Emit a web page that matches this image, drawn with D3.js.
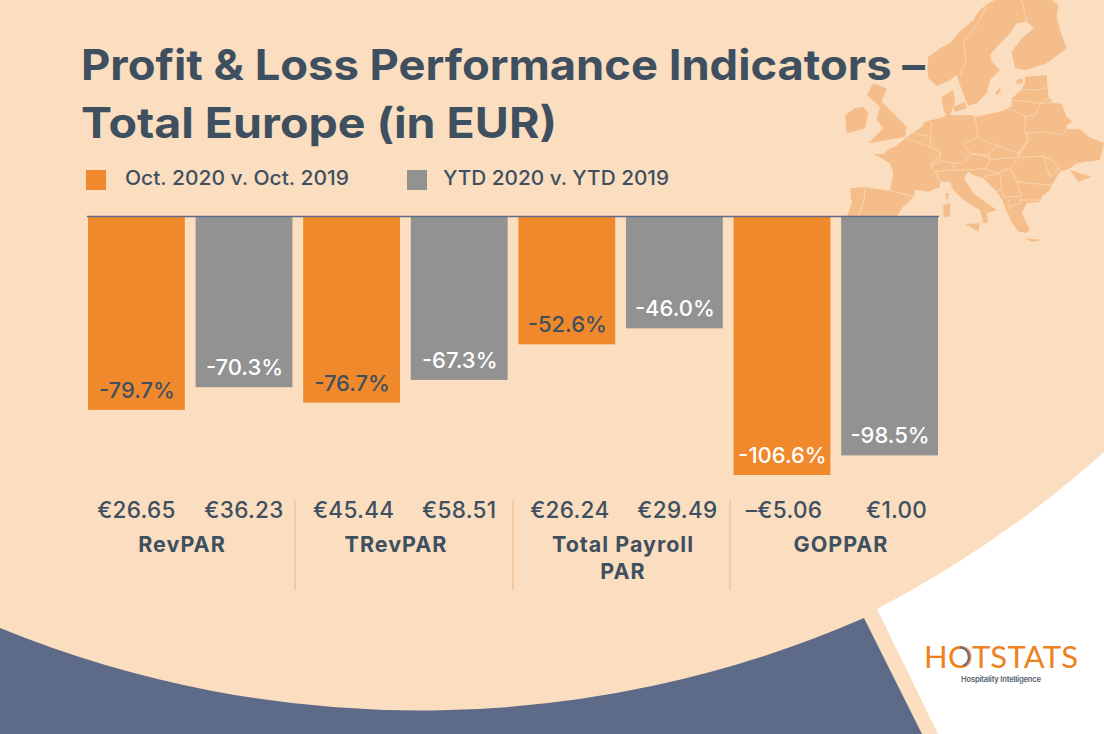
<!DOCTYPE html>
<html><head><meta charset="utf-8">
<style>html,body{margin:0;padding:0;background:#fff}svg{display:block}text{font-family:Inter,"Open Sans",sans-serif}</style>
<script src="https://cdn.jsdelivr.net/npm/d3@7"></script></head>
<body><div id="c"></div>
<script>
const categories=["RevPAR","TRevPAR","Total Payroll PAR","GOPPAR"];
const seriesNames=["Oct. 2020 v. Oct. 2019","YTD 2020 v. YTD 2019"];
const octChange=[-79.7,-76.7,-52.6,-106.6];
const ytdChange=[-70.3,-67.3,-46.0,-98.5];
const octEuro=["€26.65","€45.44","€26.24","–€5.06"];
const ytdEuro=["€36.23","€58.51","€29.49","€1.00"];

const W=1104,H=734,INK="#3e5060",ORANGE="#f0882c",GRAY="#929292",PEACH="#fbddc0",LAND="#f5bd8a",NAVY="#5d6a88";
const svg=d3.select("#c").append("svg").attr("width",W).attr("height",H);
svg.append("rect").attr("width",W).attr("height",H).attr("fill",PEACH);
svg.append("path").attr("fill",NAVY).attr("d","M0,628 A1111,1111 0 0 0 864,618 L922,734 L0,734 Z");
svg.append("path").attr("fill","#fff").attr("d","M877,609 Q1000,545 1104,452 L1104,734 L938,734 Z");

// Europe backdrop: decorative outline traced in 3x crop units
const land=[
[[465,0],[440,12],[415,35],[400,60],[385,72],[355,100],[335,125],[300,145],[265,170],[262,200],[265,235],[290,258],[330,240],[350,225],[365,270],[385,318],[410,310],[440,280],[450,240],[480,210],[455,185],[450,165],[480,130],[510,100],[530,70],[560,65],[582,85],[545,115],[515,155],[525,205],[560,210],[620,190],[680,145],[660,90],[650,50],[655,15],[635,0]],
[[100,462],[130,462],[150,445],[165,440],[200,412],[240,385],[255,365],[285,358],[310,350],[320,345],[310,330],[305,290],[340,270],[345,305],[330,345],[395,345],[405,350],[460,340],[490,332],[500,325],[515,320],[515,295],[545,268],[555,250],[555,230],[620,225],[625,290],[640,308],[665,312],[680,350],[698,365],[680,375],[680,388],[720,388],[745,410],[792,430],[780,480],[710,490],[690,505],[660,515],[635,555],[630,570],[605,590],[600,605],[560,610],[545,640],[570,690],[560,698],[535,695],[515,665],[500,635],[487,600],[470,575],[430,535],[400,525],[385,515],[372,535],[400,580],[470,630],[440,640],[445,665],[430,670],[420,630],[370,600],[340,570],[330,545],[300,545],[300,560],[265,575],[225,570],[222,590],[185,625],[170,650],[20,650],[35,610],[30,565],[75,562],[150,572],[160,520],[150,490]],
[[340,320],[375,305],[380,325],[345,335]],
[[100,250],[140,265],[125,305],[160,340],[200,380],[195,410],[140,420],[85,430],[130,385],[110,360],[120,320],[80,285]],
[[15,345],[45,325],[70,320],[85,340],[75,385],[20,400]],
[[690,510],[720,520],[755,530],[715,545]],
[[375,672],[420,670],[415,695]],
[[310,615],[330,610],[330,650],[310,650]],
[[315,580],[328,580],[322,605]],
[[555,715],[610,720],[575,725]],
[[465,280],[480,262],[482,275],[470,285]],
[[530,240],[548,235],[548,250],[530,252]]
];
const borders=[
[[440,12],[430,40],[400,90],[370,125],[378,185],[360,225]],
[[545,0],[560,65]],
[[75,562],[72,600],[55,650]],
[[275,365],[270,440],[303,458],[298,482],[345,490],[370,490],[392,462],[370,430],[415,410],[405,350]],
[[415,410],[440,425],[470,435],[495,445],[535,460],[565,420],[555,395],[555,350],[520,330],[495,325]],
[[200,412],[240,430],[270,440]],[[225,400],[275,410]],
[[303,458],[272,495],[285,515],[300,545]],[[150,572],[225,590]],
[[272,495],[300,485]],[[345,490],[335,510],[285,515]],[[335,510],[385,510]],
[[392,462],[440,470],[450,480],[435,505],[385,510]],
[[395,460],[445,465],[470,437]],[[445,465],[450,480],[490,475],[530,472],[540,455]],
[[435,505],[470,520],[510,505],[535,475]],[[535,472],[610,468],[650,490],[660,515]],
[[510,505],[530,545],[570,550],[635,555]],[[610,468],[630,530],[655,505]],
[[430,530],[480,520],[485,570],[470,575]],[[470,520],[480,520]],
[[530,545],[545,590],[530,590],[490,590],[485,570]],[[540,600],[600,600]],
[[505,595],[510,630]],[[510,620],[540,610],[545,595]],
[[555,400],[610,395],[665,405],[680,388]],[[555,350],[585,345],[600,310],[640,308]],
[[515,300],[570,305],[600,310],[625,295]],[[545,268],[590,270],[620,262]],
[[565,420],[535,472]]
];
const mx=d3.scaleLinear().domain([0,3]).range([840,841]),my=d3.scaleLinear().domain([0,3]).range([0,1]);
const ln=d3.line().x(d=>mx(d[0])).y(d=>my(d[1]));
const map=svg.append("g");
map.selectAll("path.l").data(land).join("path").attr("class","l").attr("d",d=>ln(d)+"Z").attr("fill",LAND).attr("stroke","none");
map.selectAll("path.b").data(borders).join("path").attr("class","b").attr("d",ln)
  .attr("fill","none").attr("stroke","#fad9b8").attr("stroke-width",.8);

// title
const title=svg.append("g").attr("fill",INK).attr("font-size",42).attr("font-weight",700);
title.append("text").attr("x",81).attr("y",80).attr("textLength",844).attr("lengthAdjust","spacingAndGlyphs").text("Profit & Loss Performance Indicators –");
title.append("text").attr("x",81).attr("y",138).attr("textLength",476).attr("lengthAdjust","spacingAndGlyphs").text("Total Europe (in EUR)");

// legend
const legX=[86,407],legT=[125,443],legW=[224,226];
seriesNames.forEach((s,i)=>{
  svg.append("rect").attr("x",legX[i]).attr("y",170).attr("width",20).attr("height",20).attr("fill",i?GRAY:ORANGE);
  svg.append("text").attr("x",legT[i]).attr("y",185).attr("font-size",20).attr("font-weight",500).attr("fill",INK)
    .attr("textLength",legW[i]).attr("lengthAdjust","spacingAndGlyphs").text(s);
});

// chart
const rows=categories.flatMap((c,i)=>[
  {c,s:0,v:octChange[i],e:octEuro[i]},
  {c,s:1,v:ytdChange[i],e:ytdEuro[i]}]);
const x=d3.scaleBand().domain(d3.range(rows.length)).range([88,938]).paddingInner(.1);
const y=d3.scaleLinear().domain([0,-106.6]).range([217,475]);
svg.selectAll("rect.bar").data(rows).join("rect").attr("class","bar")
  .attr("x",(d,i)=>x(i)).attr("width",x.bandwidth())
  .attr("y",y(0)).attr("height",d=>y(d.v)-y(0)).attr("fill",d=>d.s?GRAY:ORANGE);
svg.append("line").attr("x1",87).attr("x2",939).attr("y1",216.5).attr("y2",216.5).attr("stroke",NAVY).attr("stroke-width",1.5);
svg.selectAll("text.pct").data(rows).join("text").attr("class","pct")
  .attr("x",(d,i)=>x(i)+x.bandwidth()/2+.5).attr("y",d=>y(d.v)-12)
  .attr("text-anchor","middle").attr("font-size",22).attr("font-weight",500)
  .attr("fill",d=>(d.s||d.v<-100)?"#fff":INK).text(d=>d.v.toFixed(1)+"%");
const euroNudge=[0,0,2,0,3,3,2,7];
svg.selectAll("text.eur").data(rows).join("text").attr("class","eur")
  .attr("x",(d,i)=>x(i)+x.bandwidth()/2+euroNudge[i]).attr("y",518)
  .attr("text-anchor","middle").attr("font-size",22.5).attr("font-weight",500).attr("letter-spacing",.3)
  .attr("fill",INK).text(d=>d.e);

// category labels
const catX=[182,396,623,841];
const wrapped=categories.map(c=>c==="Total Payroll PAR"?["Total Payroll","PAR"]:[c]);
wrapped.forEach((lines,i)=>lines.forEach((t,j)=>{
  svg.append("text").attr("x",catX[i]).attr("y",552+j*27).attr("text-anchor","middle")
    .attr("font-size",21.5).attr("font-weight",700).attr("letter-spacing",1).attr("fill",INK).text(t);
}));
[295,513,730].forEach(v=>svg.append("line").attr("x1",v).attr("x2",v).attr("y1",500).attr("y2",590).attr("stroke",LAND).attr("stroke-width",1.2));

// logo
const logo=svg.append("text").attr("x",924).attr("y",668).attr("font-size",31).attr("font-weight",400)
  .attr("fill","#ee8122").attr("textLength",154).attr("lengthAdjust","spacing").style("font-family","Lato").text("HOTSTATS");
const oBox=logo.node().getExtentOfChar(1);
const ringX=oBox.x+oBox.width/2-1, ringR=oBox.width/2-1;
svg.append("path").attr("transform",`translate(${ringX},657)`)
  .attr("d",d3.arc().innerRadius(ringR-2).outerRadius(ringR).startAngle(.1).endAngle(2.7)())
  .attr("fill",NAVY);
svg.append("text").attr("x",961).attr("y",682).attr("font-size",7.6).attr("font-weight",600).attr("textLength",80)
  .attr("fill","#55606e").text("Hospitality Intelligence");
</script></body></html>
